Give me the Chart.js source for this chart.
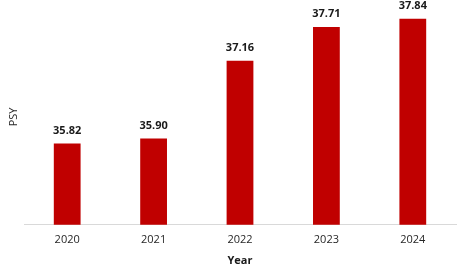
<!DOCTYPE html>
<html>
<head>
<meta charset="utf-8">
<script src="https://cdn.jsdelivr.net/npm/chart.js@4.4.1/dist/chart.umd.min.js"></script>
<style>
  html, body { margin: 0; padding: 0; background: #fff; }
  #wrap { width: 466px; height: 278px; }
</style>
</head>
<body>
<div id="wrap"><canvas id="psyChart"></canvas></div>
<script>
const years = ["2020", "2021", "2022", "2023", "2024"];
const psyValues = [35.82, 35.90, 37.16, 37.71, 37.84];

// draw the value above each bar
const valueLabels = {
    id: "valueLabels",
    afterDatasetsDraw(chart) {
        const ctx = chart.ctx;
        const meta = chart.getDatasetMeta(0);
        ctx.save();
        ctx.font = "bold 11px 'Open Sans'";
        ctx.fillStyle = "#1a1a1a";
        ctx.textAlign = "center";
        ctx.textBaseline = "middle";
        meta.data.forEach((bar, i) => {
            ctx.fillText(psyValues[i].toFixed(2), bar.x, bar.y - 13);
        });
        ctx.restore();
    }
};

const ctx = document.getElementById("psyChart").getContext("2d");
new Chart(ctx, {
    type: "bar",
    data: {
        labels: years,
        datasets: [
            {
                label: "PSY",
                data: psyValues,
                backgroundColor: "#C00000",
                borderWidth: 0,
                categoryPercentage: 1,
                barPercentage: 0.31,
            },
        ],
    },
    options: {
        responsive: true,
        maintainAspectRatio: false,
        animation: false,
        layout: { padding: { top: 9, right: 10, bottom: 12, left: 0 } },
        scales: {
            y: {
                min: 34.5,
                max: 38,
                grid: { display: false },
                border: { display: false },
                ticks: { display: false },
                title: {
                    display: true,
                    text: "PSY",
                    color: "#262626",
                    font: { family: "'Open Sans'", size: 11 },
                    padding: { top: 7, bottom: 4 },
                },
                afterFit(scale) { scale.width = 24; },
            },
            x: {
                grid: { display: false, drawTicks: false },
                border: { display: true, color: "#d9d9d9", width: 1 },
                ticks: {
                    color: "#262626",
                    font: { family: "'Open Sans'", size: 11 },
                    padding: 8,
                },
                title: {
                    display: true,
                    text: "Year",
                    color: "#1a1a1a",
                    font: { family: "'Open Sans'", size: 11, weight: "bold", lineHeight: 1 },
                    padding: { top: 1, bottom: 0 },
                },
            },
        },
        plugins: {
            legend: { display: false },
            tooltip: { enabled: false },
        },
    },
    plugins: [valueLabels],
});
</script>
</body>
</html>
